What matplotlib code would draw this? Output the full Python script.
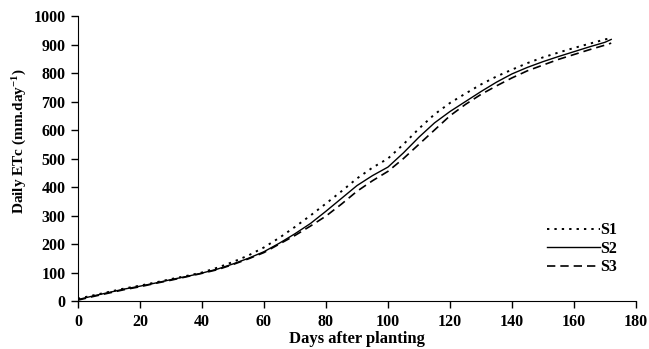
import matplotlib.pyplot as plt

# days after planting and cumulative ETc
days = [0, 5, 10, 15, 20, 25, 30, 35, 40, 45, 50, 55, 60, 65, 70, 75, 80, 85,
        90, 95, 100, 105, 110, 115, 120, 125, 130, 135, 140, 145, 150, 155,
        160, 165, 170, 172]
s1 = [8, 20, 32, 44, 54, 65, 77, 88, 100, 117, 137, 160, 188, 222, 260, 300,
      342, 385, 430, 468, 500, 550, 605, 655, 695, 728, 760, 788, 812, 835,
      855, 872, 888, 903, 918, 923]
s2 = [5, 18, 30, 42, 52, 63, 75, 86, 98, 112, 130, 150, 173, 203, 236, 272,
      315, 360, 405, 440, 470, 520, 575, 625, 665, 700, 735, 768, 797, 820,
      840, 858, 875, 892, 908, 918]
s3 = [3, 16, 28, 40, 50, 62, 73, 85, 97, 110, 128, 148, 170, 200, 230, 263,
      298, 340, 385, 422, 455, 500, 550, 600, 650, 690, 725, 755, 783, 808,
      828, 848, 865, 882, 898, 905]

plt.rcParams['font.family'] = ['Liberation Serif', 'DejaVu Serif']
plt.rcParams['font.weight'] = 'bold'
plt.rcParams['mathtext.fontset'] = 'custom'
plt.rcParams['mathtext.rm'] = 'Liberation Serif:bold'
plt.rcParams['mathtext.bf'] = 'Liberation Serif:bold'
plt.rcParams['mathtext.default'] = 'bf'

fig = plt.figure(figsize=(6.49, 3.49), dpi=100)
ax = fig.add_axes([0.120, 0.1375, 0.860, 0.8165])

ax.plot(days, s1, color='black', lw=1.4, linestyle=(0, (1.2, 2.6)), label='S1')
ax.plot(days, s2, color='black', lw=1.0, linestyle='-', label='S2')
ax.plot(days, s3, color='black', lw=1.2, linestyle=(0, (5, 3)), label='S3')

ax.set_xlim(0, 180)
ax.set_ylim(0, 1000)
ax.set_xticks(range(0, 181, 20))
ax.set_yticks(range(0, 1001, 100))
ax.tick_params(direction='out', length=5, width=1, labelsize=11.5, pad=4)
for lab in ax.get_xticklabels() + ax.get_yticklabels():
    lab.set_fontweight('bold')

ax.spines['top'].set_visible(False)
ax.spines['right'].set_visible(False)

ax.set_xlabel('Days after planting', fontsize=12, fontweight='bold', labelpad=1)
ax.set_ylabel('Daily ETc (mm.day$^{-1}$)', fontsize=11, fontweight='bold')
ax.yaxis.set_label_coords(-0.088, 0.56)

leg = ax.legend(loc='lower right', bbox_to_anchor=(0.978, 0.068), frameon=False,
                fontsize=11.5, handlelength=3.3, handletextpad=0.05,
                labelspacing=0.15, borderaxespad=0)
for t in leg.get_texts():
    t.set_fontweight('bold')

fig.savefig('out.png', dpi=100)
